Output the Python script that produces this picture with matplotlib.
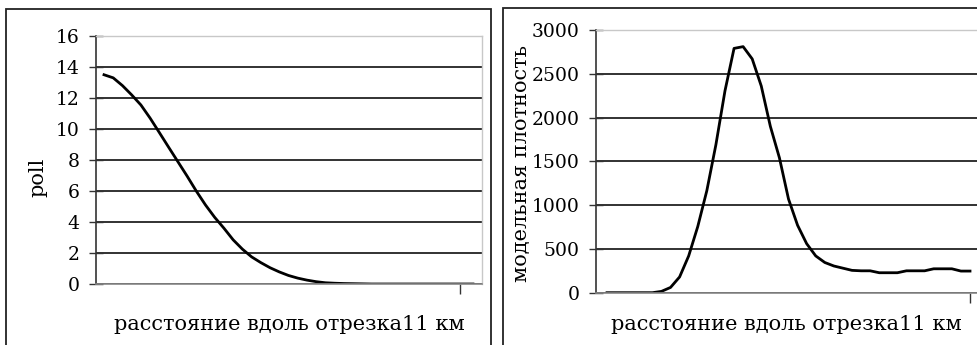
import matplotlib
matplotlib.use("Agg")
import matplotlib.pyplot as plt
from matplotlib.patches import Rectangle

# ---- data (sample index along the 11 km segment) ----
poll_values = [13.5, 13.3, 12.8, 12.2, 11.55, 10.7, 9.77, 8.83, 7.9, 6.97,
               6.0, 5.1, 4.3, 3.6, 2.85, 2.25, 1.75, 1.38, 1.05, 0.78,
               0.55, 0.38, 0.25, 0.15, 0.08, 0.05, 0.03, 0.02, 0.01, 0.0,
               0.0, 0.0, 0.0, 0.0, 0.0, 0.0, 0.0, 0.0, 0.0, 0.0, 0.0]
density_values = [0, 0, 0, 0, 0, 0, 15, 60, 180, 420,
                  755, 1165, 1690, 2305, 2790, 2810, 2670, 2360, 1900, 1540,
                  1070, 770, 560, 420, 345, 305, 280, 255, 250, 250,
                  228, 228, 228, 250, 250, 250, 273, 273, 273, 247, 247]
left_yticks = [0, 2, 4, 6, 8, 10, 12, 14, 16]
right_yticks = [0, 500, 1000, 1500, 2000, 2500, 3000]
xlabel_text = "расстояние вдоль отрезка11 км"
left_ylabel = "poll"
right_ylabel = "модельная плотность"

W, H = 977, 345
fig = plt.figure(figsize=(W / 100, H / 100), dpi=100)
fig.patch.set_facecolor("white")

FONT = "DejaVu Serif"

def fx(px):
    return px / W

def fy(py):
    return 1 - py / H

# panel borders
fig.patches.append(Rectangle((fx(6), fy(360)), fx(491) - fx(6), fy(9) - fy(360),
                             transform=fig.transFigure, fill=False,
                             edgecolor="#222222", linewidth=1.3, zorder=0))
fig.patches.append(Rectangle((fx(503), fy(360)), fx(990) - fx(503), fy(8) - fy(360),
                             transform=fig.transFigure, fill=False,
                             edgecolor="#222222", linewidth=1.3, zorder=0))


def style_axes(ax, yticks, ylim, xtick):
    ax.set_ylim(*ylim)
    ax.set_yticks(yticks)
    ax.set_yticklabels([str(t) for t in yticks], fontfamily=FONT, fontsize=13.5)
    ax.yaxis.grid(True, color="#222222", linewidth=1.3)
    ax.set_axisbelow(True)
    ax.tick_params(axis="y", direction="inout", length=10, width=1.0,
                   color="#333333", pad=7)
    ax.set_xticks([xtick])
    ax.set_xticklabels([""])
    ax.tick_params(axis="x", direction="out", length=7, width=1.0, color="#333333")
    ax.spines["left"].set_color("#333333")
    ax.spines["left"].set_linewidth(1.2)
    ax.spines["bottom"].set_color("#888888")
    ax.spines["bottom"].set_linewidth(1.2)
    for s in ("top", "right"):
        ax.spines[s].set_color("#c8c8c8")
        ax.spines[s].set_linewidth(1.0)


# left chart
n_left = len(poll_values)
axL = fig.add_axes([fx(96), fy(284), fx(482) - fx(96), fy(36) - fy(284)])
axL.plot(range(n_left), poll_values, color="black", linewidth=2.0)
step_l = (473 - 104) / (n_left - 1)
axL.set_xlim(-8 / step_l, (482 - 104) / step_l)
style_axes(axL, left_yticks, (0, 16), (460 - 104) / step_l)

# right chart
n_right = len(density_values)
axR = fig.add_axes([fx(596), fy(292.7), fx(990) - fx(596), fy(30) - fy(292.7)])
axR.plot(range(n_right), density_values, color="black", linewidth=2.0)
step_r = (970 - 607) / (n_right - 1)
axR.set_xlim(-11 / step_r, (990 - 607) / step_r)
style_axes(axR, right_yticks, (0, 3000), n_right - 1)

# labels
fig.text(fx(289), fy(325), xlabel_text, ha="center", va="center",
         fontfamily=FONT, fontsize=15)
fig.text(fx(786), fy(325), xlabel_text, ha="center", va="center",
         fontfamily=FONT, fontsize=15)
fig.text(fx(38), fy(177), left_ylabel, ha="center", va="center", rotation=90,
         fontfamily=FONT, fontsize=15)
fig.text(fx(521), fy(163), right_ylabel, ha="center", va="center", rotation=90,
         fontfamily=FONT, fontsize=15)

fig.savefig("out.png", dpi=100, facecolor="white")
